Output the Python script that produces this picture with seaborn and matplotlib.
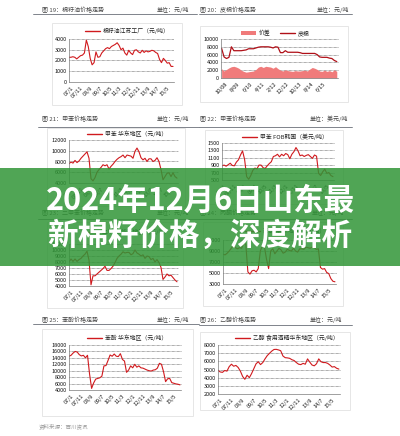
import numpy as np
import pandas as pd
import matplotlib
matplotlib.use("Agg")
import matplotlib.pyplot as plt
from matplotlib.patches import Rectangle, Patch
from matplotlib.lines import Line2D
import seaborn as sns

sns.set_theme(style="white")
plt.rcParams['font.family'] = ['Noto Sans CJK SC', 'DejaVu Sans']
plt.rcParams['axes.unicode_minus'] = False

W, H = 400, 436

# ---- time axes ---------------------------------------------------------
# months counted from 2007-01, sampled every two months
months07 = np.arange(-2, 108, 2)
tick_months07 = [0, 10, 20, 30, 40, 50, 60, 70, 80, 90, 100]
tick_labels07 = ['07/1', '07/11', '08/9', '09/7', '10/5', '11/3', '12/1',
                 '12/11', '13/9', '14/7', '15/5']

# months counted from 2008-10, sampled every two months
months08 = np.arange(-3, 92, 2)
tick_months08 = [0, 10, 20, 30, 40, 50, 60, 70, 80]
tick_labels08 = ['10/08', '8/09', '6/10', '4/11', '2/12', '12/12', '10/13',
                 '8/14', '6/15']

# ---- price series --------------------------------------------------------
cottonseed_oil = [2300, 2300, 2350, 2300, 2150, 2300, 2450, 2500, 2700, 3900,
                  3300, 2200, 1600, 1800, 2800, 2300, 2350, 2700, 2900, 3100,
                  3200, 3100, 3300, 3400, 3500, 3650, 3400, 3000, 3150, 2700,
                  2500, 2950, 2700, 2550, 2950, 3000, 2800, 2700, 2950, 2750,
                  2900, 2800, 2850, 2950, 2900, 2750, 2650, 2100, 1800, 2200,
                  2000, 1750, 1800, 1450, 1450]

lint_price = [7600, 5400, 5000, 5300, 8000, 7000, 7000, 7000, 7000, 7100,
              7200, 7500, 7500, 7500, 7700, 7900, 8000, 8000, 8000, 8000,
              7900, 7700, 8000, 7900, 6500, 6500, 7000, 6600, 6600, 6600,
              6600, 6600, 6500, 6300, 6300, 6300, 6300, 6300, 6300, 6000,
              5400, 5300, 5300, 5300, 5100, 5000, 4500, 4200]
lint_spread = [2400, 1800, 2200, 2600, 2900, 3000, 2800, 2500, 2000, 1700,
               1500, 1600, 1700, 1800, 2200, 2800, 3000, 2700, 3000, 2900,
               2800, 2500, 2900, 2400, 2000, 1800, 2100, 1900, 1800, 1700,
               1900, 1800, 1800, 1900, 2000, 1800, 2300, 2700, 2500, 2200,
               1800, 1700, 2000, 1700, 1900, 1600, 2100, 1700]

toluene_east = [7600, 7900, 7700, 8200, 7800, 8100, 8600, 9000, 9400, 9800,
                8600, 4800, 4400, 5000, 6000, 6500, 6900, 7400, 7200, 7400,
                6600, 7100, 7500, 8000, 8400, 8700, 8900, 9200, 8700, 9200,
                9100, 9000, 8600, 9900, 10500, 9800, 8700, 8300, 8600, 8000,
                8500, 8500, 8000, 8200, 8700, 8000, 6500, 4600, 5200, 5800,
                5900, 5200, 5900, 5200, 4900]

toluene_fob = [880, 900, 870, 910, 950, 890, 880, 980, 1040, 1170,
               1280, 1050, 590, 520, 620, 760, 820, 800, 900, 900,
               830, 810, 880, 940, 990, 1130, 1150, 1190, 1120, 1190,
               1150, 1210, 1180, 1070, 1190, 1260, 1370, 1280, 1150, 1170,
               1130, 1160, 1180, 1130, 1080, 1170, 1140, 680, 620, 720,
               790, 680, 700, 620, 590]

xylene_east = [8000, 8500, 8100, 8500, 8100, 8400, 8600, 9000, 9300, 9800,
               8300, 4200, 5700, 5700, 6000, 6300, 6600, 6900, 7300, 6600,
               6600, 6900, 7300, 7900, 8600, 9000, 9300, 9700, 9500, 9600,
               9600, 9200, 9400, 10000, 9500, 9300, 9000, 9200, 8600, 9000,
               8900, 8400, 8600, 8000, 8400, 7900, 7100, 5100, 5500, 6000,
               5700, 5800, 5400, 5000, 4700]

acetone_east = [8400, 8300, 8600, 9000, 9500, 10000, 9600, 9400, 9600, 9500,
                10500, 10200, 5200, 4800, 5400, 5500, 5200, 5800, 9000, 10000,
                9700, 7500, 5800, 9000, 9400, 8500, 9000, 9500, 9200, 8600,
                8800, 9300, 9100, 9000, 9500, 9000, 8800, 9400, 9400, 9300,
                9700, 9600, 9500, 9700, 9600, 9300, 9400, 6000, 5700, 5800,
                5100, 4900, 4000, 3500, 3400]

phenol_east = [14500, 14800, 15500, 16000, 15800, 15000, 14600, 14800, 14000, 14800,
               9000, 4500, 6200, 7400, 7600, 7800, 8300, 11500, 11600, 13200,
               14900, 14500, 15200, 14500, 14400, 15300, 13500, 13000, 9500, 10200,
               11500, 10900, 12000, 11100, 11500, 10900, 10800, 10500, 10200, 10000,
               9900, 10200, 10300, 10800, 12300, 12000, 9700, 6600, 7500, 7600,
               6300, 6100, 5900, 5800, 5600]

ethanol_east = [4900, 4700, 4650, 4880, 4800, 5350, 5650, 5400, 5500, 5250,
                4800, 4150, 3800, 4300, 4000, 4500, 5100, 5700, 5950, 5600,
                5850, 6300, 6700, 6980, 7250, 7450, 7470, 7400, 7300, 6660,
                6450, 6420, 6370, 6200, 6100, 5850, 5650, 5600, 5750, 5650,
                6300, 5900, 5550, 5450, 5700, 6300, 5950, 5850, 5850, 5750,
                5550, 5300, 5350, 5150, 5050]

# ---- texts -------------------------------------------------------------------
titles = ['图 19：棉籽油价格走势', '图 20：皮棉价格走势', '图 21：甲苯价格走势',
          '图 22：甲苯价格走势', '图 23：二甲苯价格走势', '图 24：丙酮价格走势',
          '图 25：苯酚价格走势', '图 26：乙醇价格走势']
units = ['单位：元/吨', '单位：元/吨', '单位：元/吨', '单位：美元/吨',
         '单位：元/吨', '单位：元/吨', '单位：元/吨', '单位：元/吨']
legend_labels = ['棉籽油江苏工厂（元/吨）', '皮棉', '甲苯 华东地区（元/吨）',
                 '甲苯 FOB韩国（美元/吨）', '二甲苯 华东地区（元/吨）',
                 '丙酮 华东地区（元/吨）', '苯酚 华东地区（元/吨）',
                 '乙醇 食用酒精华东地区（元/吨）']
spread_label = '价差'
source_text = '资料来源：百川资讯'
banner_lines = ['2024年12月6日山东最', '新棉籽价格，深度解析']

RED = '#d01a1e'
DARK_RED = '#b01018'
SPREAD = '#f07b7b'
TXT = '#151515'

fig = plt.figure(figsize=(W / 100, H / 100), dpi=100)
fig.patch.set_facecolor('white')


def fx(x):
    return x / W


def fy(y):
    return 1 - y / H


def add_axes(x0, x1, y_top, y_bot):
    ax = fig.add_axes([fx(x0), fy(y_bot), fx(x1 - x0), (y_bot - y_top) / H])
    ax.set_facecolor('none')
    return ax


def style(ax, yticks, xlim, xticks, xlabels):
    ax.set_ylim(yticks[0], yticks[-1])
    ax.set_xlim(*xlim)
    ax.set_yticks(yticks)
    ax.set_yticklabels([str(v) for v in yticks])
    ax.set_xticks(xticks)
    ax.set_xticklabels(xlabels, rotation=45, ha='right', va='top',
                       rotation_mode='anchor')
    ax.tick_params(axis='y', labelsize=4, colors=TXT, length=0, pad=1.5)
    ax.tick_params(axis='x', labelsize=4, colors=TXT, length=1.2, width=0.4,
                   pad=1.2)
    for s in ['top', 'right']:
        ax.spines[s].set_visible(False)
    for s in ['left', 'bottom']:
        ax.spines[s].set_color('#7a7a7a')
        ax.spines[s].set_linewidth(0.5)
    for v in yticks[1:]:
        ax.axhline(v, color='#3a3a3a', lw=0.45, ls=(0, (1, 1)), zorder=0,
                   clip_on=False)
    ax.set_xlabel('')
    ax.set_ylabel('')


def header(i, x_title, x_unit, x_line0, x_line1, y_text, y_line):
    fig.text(fx(x_title), fy(y_text), titles[i], fontsize=4.3, color='#444',
             ha='left', va='center')
    fig.text(fx(x_unit), fy(y_text), units[i], fontsize=4.3, color='#444',
             ha='left', va='center')
    fig.add_artist(Line2D([fx(x_line0), fx(x_line1)], [fy(y_line)] * 2,
                          color='#6a6f78', lw=0.6))


def frame_box(x0, x1, y0, y1):
    fig.add_artist(Rectangle((fx(x0), fy(y1)), fx(x1 - x0), (y1 - y0) / H,
                             transform=fig.transFigure, facecolor='white',
                             edgecolor='#e2e2e2', lw=0.6, zorder=-1))


def legend(ax, handles, labels, cx, cy, ncol=1):
    ax.legend(handles, labels, loc='center', ncol=ncol,
              bbox_to_anchor=(fx(cx), fy(cy)), bbox_transform=fig.transFigure,
              frameon=False, fontsize=4.2, handlelength=2.6, handletextpad=0.5,
              borderpad=0, columnspacing=1.6, labelcolor='#222')


def line_panel(values, months, color, box, rect, yticks, xlim, xticks,
               xlabels, label, legend_xy):
    frame_box(*box)
    ax = add_axes(*rect)
    df = pd.DataFrame({'month': months, 'price': values})
    sns.lineplot(data=df, x='month', y='price', ax=ax, color=color, lw=0.8,
                 legend=False)
    style(ax, yticks, xlim, xticks, xlabels)
    legend(ax, [Line2D([], [], color=color, lw=1.0)], [label], *legend_xy)
    return ax


xlim07 = (-2, 107)

# 1: cottonseed oil
header(0, 42, 157, 33, 197, 10, 14)
line_panel(cottonseed_oil, months07, RED, (52, 182, 23, 105),
           (69, 174, 39, 82), [0, 1000, 2000, 3000, 4000], xlim07,
           tick_months07, tick_labels07, legend_labels[0], (127, 31))

# 2: lint price with spread area
header(1, 200, 317, 199, 352, 10, 14)
frame_box(200, 348, 26, 102)
ax2 = add_axes(221, 338, 39, 78)
ax2.fill_between(months08, 0, lint_spread, color=SPREAD, lw=0, zorder=1)
sns.lineplot(x=months08, y=lint_price, ax=ax2, color=DARK_RED, lw=0.9,
             legend=False, zorder=2)
style(ax2, [0, 2000, 4000, 6000, 8000, 10000], (-3.5, 92), tick_months08,
      tick_labels08)
legend(ax2, [Patch(facecolor=SPREAD, edgecolor='none'),
             Line2D([], [], color=DARK_RED, lw=1.0)],
       [spread_label, legend_labels[1]], 275, 33, ncol=2)

# 3: toluene east China
header(2, 42, 157, 38, 199, 119, 127)
line_panel(toluene_east, months07, RED, (47, 185, 128, 206),
           (69, 178, 140, 183), [4000, 6000, 8000, 10000, 12000], xlim07,
           tick_months07, tick_labels07, legend_labels[2], (127, 134))

# 4: toluene FOB Korea
header(3, 200, 310, 199, 352, 119, 127)
line_panel(toluene_fob, months07, RED, (205, 343, 130, 204),
           (222, 334, 142.7, 180), [500, 700, 900, 1100, 1300, 1500], xlim07,
           tick_months07, tick_labels07, legend_labels[3], (285, 137))

# 5: xylene east China
header(4, 42, 157, 38, 199, 213, 219)
line_panel(xylene_east, months07, RED, (47, 183, 222, 308),
           (69, 178, 244, 286),
           [4000, 5000, 6000, 7000, 8000, 9000, 10000, 11000], xlim07,
           tick_months07, tick_labels07, legend_labels[4], (127, 232))

# 6: acetone east China
header(5, 200, 312, 199, 352, 213, 219)
line_panel(acetone_east, months07, RED, (203, 343, 222, 306),
           (223, 336, 240, 284), [3000, 5000, 7000, 9000, 11000], xlim07,
           tick_months07, tick_labels07, legend_labels[5], (285, 231))

# 7: phenol east China
header(6, 42, 157, 33, 199, 320, 324)
line_panel(phenol_east, months07, RED, (42, 193, 329, 416),
           (69, 181, 345, 390),
           [4000, 6000, 8000, 10000, 12000, 14000, 16000, 18000], xlim07,
           tick_months07, tick_labels07, legend_labels[6], (127, 338))

# 8: edible ethanol east China
header(7, 200, 310, 199, 352, 320, 325)
line_panel(ethanol_east, months07, RED, (200, 350, 332, 410),
           (218, 340, 345, 394),
           [2000, 3000, 4000, 5000, 6000, 7000, 8000], xlim07,
           tick_months07, tick_labels07, legend_labels[7], (287, 338))

fig.text(fx(39), fy(426), source_text, fontsize=4, color='#9a9a9a',
         ha='left', va='center')

# green title banner across the middle
fig.add_artist(Rectangle((0, fy(266)), 1, 98 / H, transform=fig.transFigure,
                         facecolor='#319537', edgecolor='none', alpha=0.85,
                         zorder=10))
fig.text(0.5, fy(201), banner_lines[0], fontsize=22, fontweight='bold',
         color='white', ha='center', va='center', zorder=11)
fig.text(0.5, fy(236), banner_lines[1], fontsize=22, fontweight='bold',
         color='white', ha='center', va='center', zorder=11)

fig.savefig('out.png', dpi=100, facecolor='white')
